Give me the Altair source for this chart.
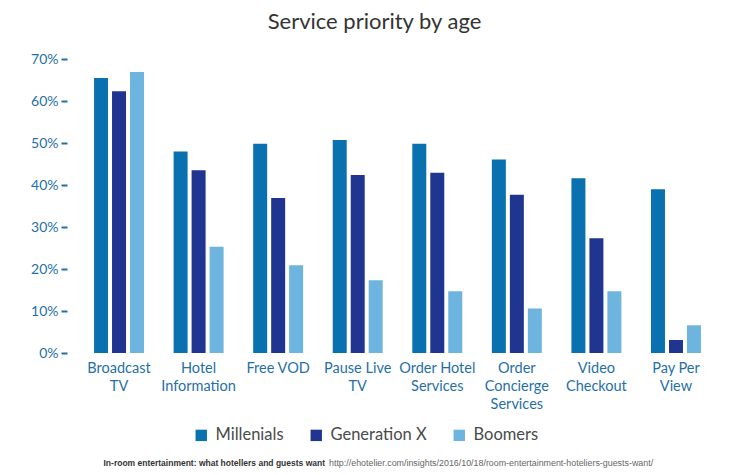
import altair as alt
import pandas as pd

categories = ["Broadcast TV", "Hotel Information", "Free VOD", "Pause Live TV",
              "Order Hotel Services", "Order Concierge Services", "Video Checkout", "Pay Per View"]
label_lines = [["Broadcast", "TV"], ["Hotel", "Information"], ["Free VOD"], ["Pause Live", "TV"],
               ["Order Hotel", "Services"], ["Order", "Concierge", "Services"], ["Video", "Checkout"], ["Pay Per", "View"]]
series = ["Millenials", "Generation X", "Boomers"]
millenials = [65.5, 48.0, 49.8, 50.7, 49.8, 46.1, 41.6, 39.0]
genx = [62.3, 43.5, 36.9, 42.4, 42.9, 37.7, 27.3, 3.1]
boomers = [66.9, 25.3, 20.9, 17.3, 14.7, 10.6, 14.7, 6.6]
colors = ["#0a71b0", "#1f3590", "#6db4de"]
y_ticks = [0, 10, 20, 30, 40, 50, 60, 70]

rows = []
for i, c in enumerate(categories):
    for s, vals in zip(series, [millenials, genx, boomers]):
        rows.append({"category": c, "series": s, "value": vals[i]})
df = pd.DataFrame(rows)

mapping = "{" + ", ".join(
    "'" + c + "': [" + ", ".join("'" + l + "'" for l in ls) + "]" for c, ls in zip(categories, label_lines)
) + "}"

blue = "#1f6fa8"
font = "Lato"

bars = alt.Chart(df).mark_bar().encode(
    x=alt.X("category:N", sort=categories, title=None,
            scale=alt.Scale(paddingInner=0.372, paddingOuter=0.34),
            axis=alt.Axis(labelAngle=0, ticks=False, domain=False, labelPadding=8,
                          labelFontSize=14.5, labelColor=blue, labelFont=font,
                          labelLineHeight=18, labelBaseline="top",
                          labelExpr=mapping + "[datum.label]")),
    xOffset=alt.XOffset("series:N", sort=series, scale=alt.Scale(paddingInner=0.222, paddingOuter=0)),
    y=alt.Y("value:Q", title=None,
            scale=alt.Scale(domain=[0, 70], nice=False),
            axis=alt.Axis(values=y_ticks, grid=False, domain=False, tickSize=6, tickWidth=2,
                          tickColor=blue, labelColor=blue, labelFontSize=14, labelFont=font,
                          labelPadding=3, labelExpr="datum.value + '%'")),
    color=alt.Color("series:N", sort=series, title=None,
                    scale=alt.Scale(domain=series, range=colors),
                    legend=alt.Legend(orient="none", direction="horizontal", legendX=126, legendY=368,
                                      symbolType="square", symbolSize=130, symbolStrokeWidth=0,
                                      labelFontSize=16.5, labelFont=font, labelColor="#4a4a4a",
                                      labelOffset=6, columnPadding=24)),
)

foot_df = pd.DataFrame({"a": [0]})
foot_bold = alt.Chart(foot_df).mark_text(
    text="In-room entertainment: what hotellers and guests want", font="Liberation Sans",
    fontSize=8.5, fontWeight="bold", color="#333333", align="right", baseline="middle"
).encode(x=alt.value(325 - 67), y=alt.value(463 - 59))
foot_url = alt.Chart(foot_df).mark_text(
    text="http://ehotelier.com/insights/2016/10/18/room-entertainment-hoteliers-guests-want/",
    font="Liberation Sans", fontSize=8.9, color="#666666", align="left", baseline="middle"
).encode(x=alt.value(329 - 67), y=alt.value(463 - 59))

chart = alt.layer(bars, foot_bold, foot_url).properties(
    width=661, height=294,
    title=alt.TitleParams("Service priority by age", fontSize=22, font=font, fontWeight="normal",
                          color="#333333", anchor="middle", dx=-23, offset=18),
    autosize=alt.AutoSizeParams(type="none"),
    padding={"left": 59, "top": 51, "right": 10, "bottom": 120},
).configure_view(stroke=None)

chart.save("out.html", embed_options={"renderer": "svg", "actions": False})
